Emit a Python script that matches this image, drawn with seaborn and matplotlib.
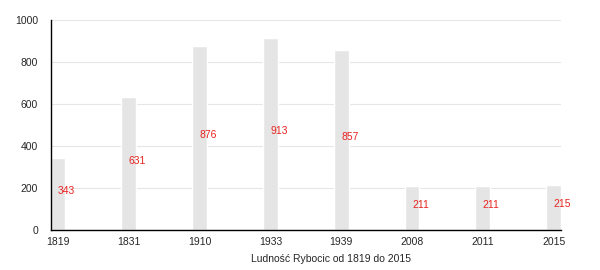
import matplotlib
matplotlib.use("Agg")
import matplotlib.pyplot as plt
import seaborn as sns
import pandas as pd

years = ["1819", "1831", "1910", "1933", "1939", "2008", "2011", "2015"]
population = [343, 631, 876, 913, 857, 211, 211, 215]
xlabel_text = "Ludność Rybocic od 1819 do 2015"

sns.set_style("white")
plt.rcParams["font.family"] = ["Liberation Sans", "DejaVu Sans"]

df = pd.DataFrame({"year": years, "pop": population})

fig = plt.figure(figsize=(6.0, 2.7), dpi=100)
ax = fig.add_axes([50.5 / 600, 40 / 270, 510.5 / 600, 210 / 270])

bw = 0.21
sns.barplot(data=df, x="year", y="pop", color="#e5e5e5", saturation=1,
            width=bw, ax=ax, zorder=2)
for i, v in enumerate(population):
    ax.text(i, v / 2, str(v), color="#e8231f", fontsize=7.5,
            ha="left", va="baseline", zorder=3)

ax.set_xlim(-bw / 2, len(years) - 1 + bw / 2)
ax.set_ylim(0, 1000)
ax.set_yticks([0, 200, 400, 600, 800, 1000])
ax.yaxis.grid(True, color="#e6e6e6", linewidth=0.8, zorder=0)
ax.set_axisbelow(True)
for s in ["top", "right"]:
    ax.spines[s].set_visible(False)
ax.spines["left"].set_color("black")
ax.spines["bottom"].set_color("black")
ax.spines["left"].set_linewidth(1)
ax.spines["bottom"].set_linewidth(1)
ax.tick_params(axis="y", length=5, width=1, color="black", labelsize=7.5, pad=4)
ax.tick_params(axis="x", length=0, labelsize=7.5, pad=5)
ax.set_ylabel("")
ax.set_xlabel(xlabel_text, fontsize=7.5)
ax.xaxis.set_label_coords(0.55, -0.115)

fig.savefig("out.png", dpi=100)
